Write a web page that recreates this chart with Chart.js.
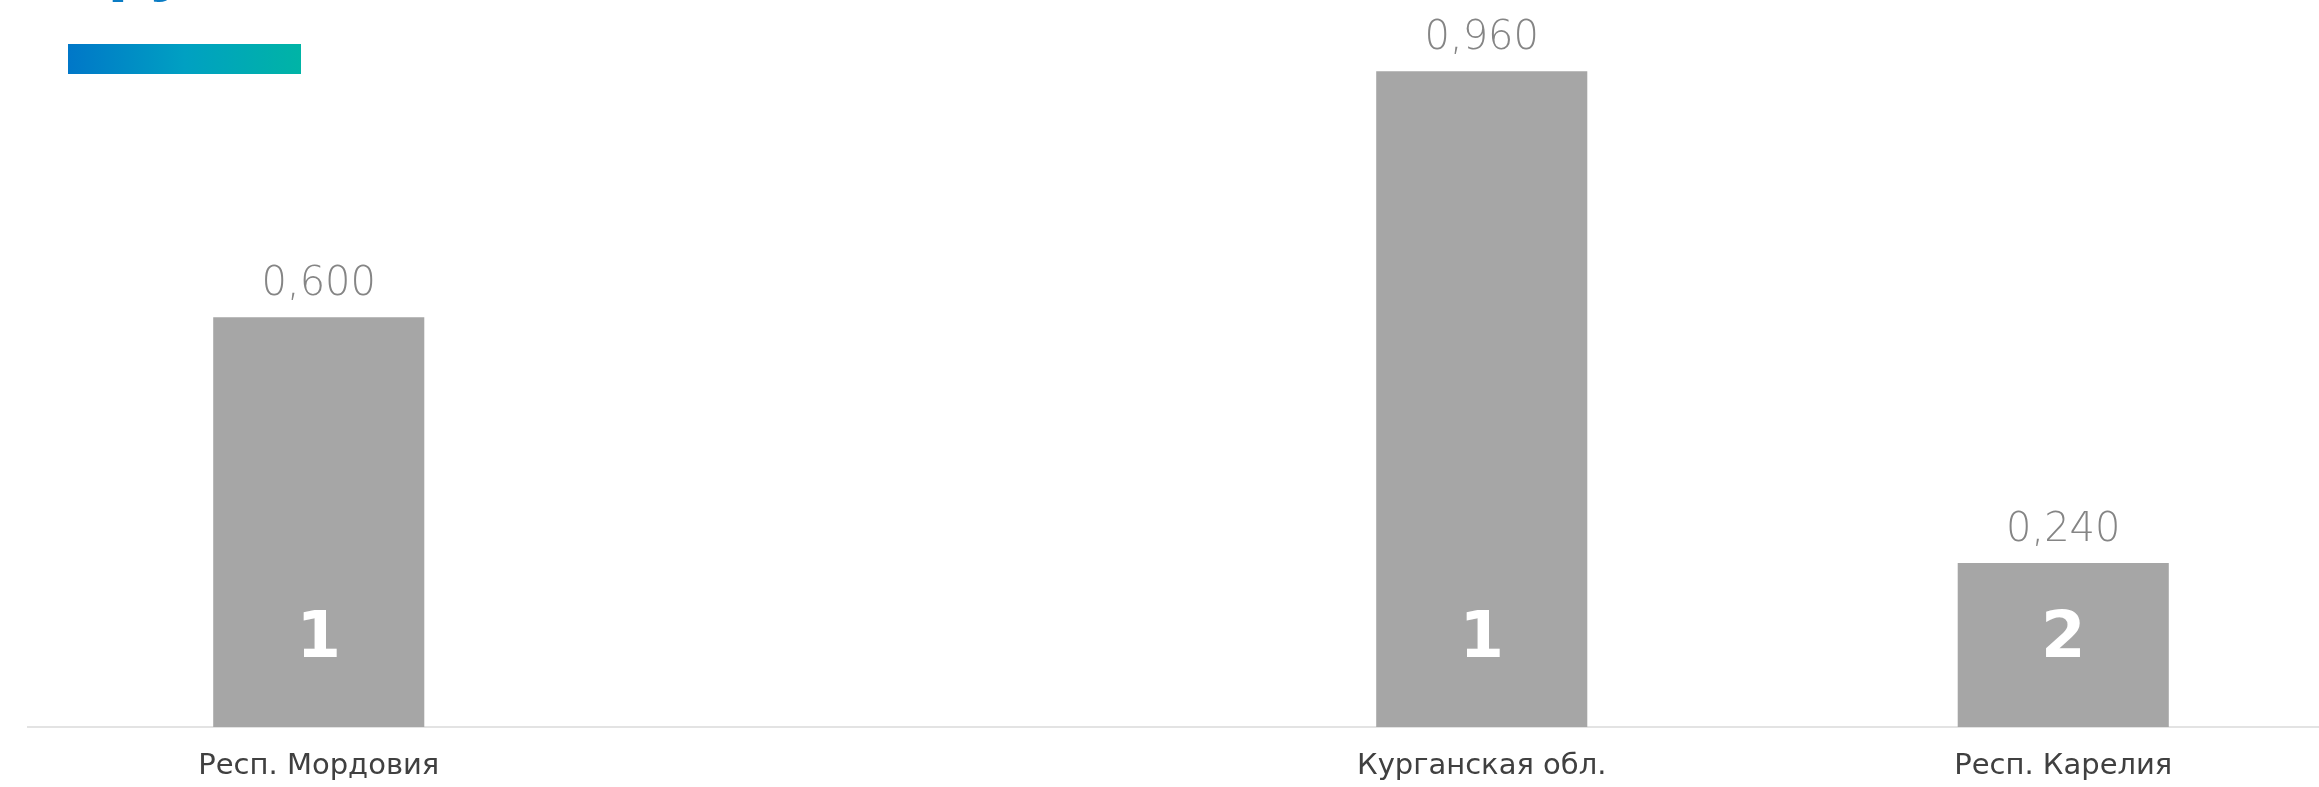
<!DOCTYPE html>
<html lang="ru">
<head>
<meta charset="utf-8">
<title>Регионы</title>
<script src="https://cdn.jsdelivr.net/npm/chart.js@4/dist/chart.umd.min.js"></script>
<style>
  html, body { margin: 0; padding: 0; background: #fff; overflow: hidden; }
  #wrap { position: relative; width: 2319px; height: 787px; overflow: hidden; }
  #title {
    position: absolute; left: 68px; top: -90px; margin: 0; line-height: 1.36;
    font: 700 70px "Open Sans", sans-serif; color: #0a7cc4; white-space: nowrap;
  }
  #accent {
    position: absolute; left: 68px; top: 44px; width: 233px; height: 30px;
    background: linear-gradient(90deg, #0077c8 0%, #00a0c2 50%, #00b4a6 100%);
  }
  #chart-box { position: absolute; left: 0; top: 0; width: 2354px; height: 787px; }
</style>
</head>
<body>
<div id="wrap">
  <div id="chart-box"><canvas id="chart-regions"></canvas></div>
  <h1 id="title">Группы</h1>
  <div id="accent"></div>
</div>
<script>
// ── Data ──────────────────────────────────────────────────────────────────
const regions = ['Респ. Мордовия', '', 'Курганская обл.', 'Респ. Карелия'];
const values  = [0.600, null, 0.960, 0.240];
const counts  = [1, null, 1, 2];

// ── Styles ────────────────────────────────────────────────────────────────
const _BAR   = '#a6a6a6';
const _VAL   = '#858585';
const _LABEL = '#404040';
const _AXIS  = '#e3e3e3';
const _FONT  = '"DejaVu Sans", sans-serif';

const _fmt = v => v.toFixed(3).replace('.', ',');

// value above bar + count inside bar
const barLabels = {
  id: 'barLabels',
  afterDatasetsDraw(chart) {
    const { ctx } = chart;
    const meta = chart.getDatasetMeta(0);
    ctx.save();
    ctx.textAlign = 'center';
    meta.data.forEach((bar, i) => {
      if (values[i] == null) return;
      ctx.fillStyle = _VAL;
      ctx.font = `200 40px ${_FONT}`;
      ctx.textBaseline = 'alphabetic';
      ctx.fillText(_fmt(values[i]), bar.x, bar.y - 22);

      if (counts[i] != null) {
        ctx.fillStyle = '#ffffff';
        ctx.font = `700 64px ${_FONT}`;
        ctx.textBaseline = 'middle';
        ctx.fillText(String(counts[i]), bar.x, bar.base - 87);
      }
    });
    ctx.restore();
  },
};

new Chart(document.getElementById('chart-regions').getContext('2d'), {
  type: 'bar',
  data: {
    labels: regions,
    datasets: [{
      data: values,
      backgroundColor: _BAR,
      borderWidth: 0,
      barPercentage: 0.363,
      categoryPercentage: 1,
    }],
  },
  options: {
    responsive: true,
    maintainAspectRatio: false,
    animation: false,
    layout: { padding: { left: 28, right: 0, top: 44, bottom: 0 } },
    plugins: { legend: { display: false }, tooltip: { enabled: false } },
    scales: {
      x: {
        grid: { display: false, drawTicks: false },
        border: { display: true, color: _AXIS, width: 2 },
        ticks: {
          color: _LABEL, padding: 22, maxRotation: 0,
          font: { family: _FONT, size: 29 },
        },
        afterFit(scale) { scale.height = 60; },
      },
      y: {
        display: false,
        min: 0,
        max: 1.0,
      },
    },
  },
  plugins: [barLabels],
});
</script>
</body>
</html>
